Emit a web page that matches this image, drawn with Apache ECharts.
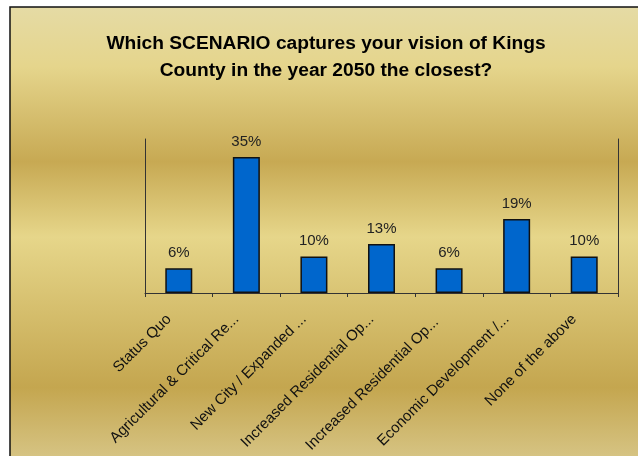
<!DOCTYPE html>
<html>
<head>
<meta charset="utf-8">
<title>Kings County 2050 scenario</title>
<script src="https://cdn.jsdelivr.net/npm/echarts@6/dist/echarts.min.js"></script>
<style>
  html, body { margin: 0; padding: 0; background: #fff; }
  #chart { width: 638px; height: 456px; }
</style>
</head>
<body>
<div id="chart"></div>
<script>
// survey answers (labels as cut off in the original)
const categories = [
  'Status Quo',
  'Agricultural & Critical Re...',
  'New City / Expanded ...',
  'Increased Residential Op...',
  'Increased Residential Op... ',
  'Economic Development /...',
  'None of the above'
]
// share of respondents, % (labels rounded)
const shares = [6.4, 35.3, 9.5, 12.7, 6.4, 19.2, 9.5]
const titleText = 'Which SCENARIO captures your vision of Kings\nCounty in the year 2050 the closest?'

const chart = echarts.init(document.getElementById('chart'))

const option = {
  animation: false,
  // gold backdrop with a black frame, like the old office chart
  graphic: [
    {
      type: 'rect',
      z: -10,
      shape: {x: 10, y: 7, width: 700, height: 500},
      style: {
        fill: new echarts.graphic.LinearGradient(0, 0, 0, 1, [
          {offset: 0, color: '#e5dba5'},
          {offset: 0.12, color: '#e5d58c'},
          {offset: 0.31, color: '#c7a953'},
          {offset: 0.46, color: '#e6d68a'},
          {offset: 0.76, color: '#c4a64f'},
          {offset: 1, color: '#e3d9a9'}
        ]),
        stroke: '#111',
        lineWidth: 1.5
      }
    }
  ],
  title: {
    text: titleText,
    left: 321,
    top: 25,
    textAlign: 'center',
    textStyle: {
      fontFamily: 'Liberation Sans, Arial, sans-serif',
      fontWeight: 'bold',
      fontSize: 19.2,
      lineHeight: 27,
      color: '#000'
    }
  },
  grid: {
    left: 145,
    right: 20,
    top: 139,
    bottom: 163
  },
  xAxis: {
    type: 'category',
    data: categories,
    axisLine: {show: true, lineStyle: {color: '#333', width: 1}},
    axisTick: {show: true, length: 4, lineStyle: {color: '#333'}},
    axisLabel: {
      rotate: 45,
      interval: 0,
      margin: 14,
      padding: [0, 14, 0, 0], // pushes the text down-left along its slope
      fontFamily: 'Liberation Sans, Arial, sans-serif',
      fontSize: 15,
      color: '#111'
    }
  },
  yAxis: [
    {
      type: 'value',
      min: 0,
      max: 40,
      axisLine: {show: true, lineStyle: {color: '#333'}},
      axisTick: {show: false},
      axisLabel: {show: false},
      splitLine: {show: false}
    },
    {
      type: 'value',
      position: 'right',
      min: 0,
      max: 40,
      axisLine: {show: true, lineStyle: {color: '#333'}},
      axisTick: {show: false},
      axisLabel: {show: false},
      splitLine: {show: false}
    }
  ],
  series: [
    {
      type: 'bar',
      data: shares,
      barWidth: 27,
      itemStyle: {
        color: '#0066cc',
        borderColor: '#111',
        borderWidth: 1.5
      },
      label: {
        show: true,
        position: 'top',
        distance: 8,
        formatter: (p) => Math.round(p.value) + '%',
        fontFamily: 'Liberation Sans, Arial, sans-serif',
        fontSize: 15,
        color: '#222'
      }
    }
  ]
}

chart.setOption(option)
</script>
</body>
</html>
